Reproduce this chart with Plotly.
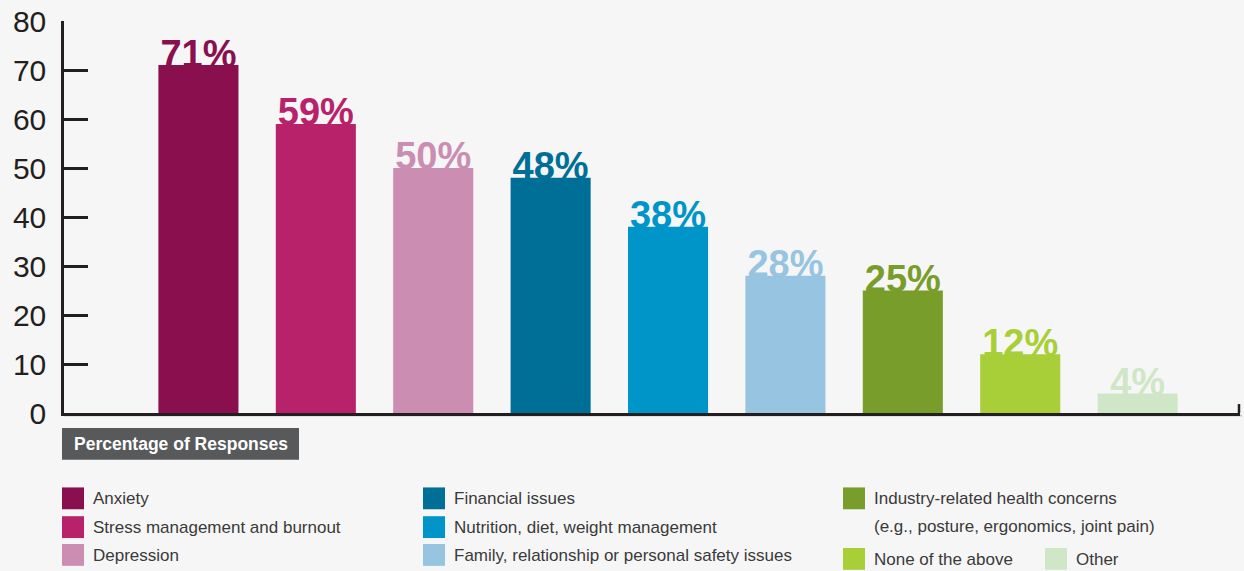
import plotly.graph_objects as go

# Survey results: share of respondents naming each concern
categories = [
    "Anxiety",
    "Stress management and burnout",
    "Depression",
    "Financial issues",
    "Nutrition, diet, weight management",
    "Family, relationship or personal safety issues",
    "Industry-related health concerns<br>(e.g., posture, ergonomics, joint pain)",
    "None of the above",
    "Other",
]
values = [71, 59, 50, 48, 38, 28, 25, 12, 4]
colors = [
    "#8a0f4e", "#b8226b", "#cb8db1",
    "#006f98", "#0095c9", "#96c4e1",
    "#789d2a", "#a8ce38", "#d0e7c7",
]
y_ticks = [0, 10, 20, 30, 40, 50, 60, 70, 80]
axis_title = "Percentage of Responses"

# Figure geometry (pixels)
W, H = 1244, 571
L, R, T, B = 64, 1240, 18, 413
BG = "#f6f6f6"
INK = "#231f20"
LABEL_FONT = "Liberation Sans, Arial, sans-serif"

y_max = 80
px_per_unit = (B - T) / y_max
# value labels sit partly behind the bar tops
label_drop = 11 / px_per_unit


def px(x):
    return (x - L) / (R - L)


def py(y):
    return (B - y) / (B - T)


fig = go.Figure()

# Value labels on the base subplot (drawn underneath the bars)
fig.add_trace(go.Scatter(
    x=categories,
    y=values,
    xaxis="x",
    yaxis="y",
    mode="text",
    text=[f"{v}%" for v in values],
    textposition="top center",
    textfont=dict(family=LABEL_FONT, size=38, color=colors, weight="bold"),
    cliponaxis=False,
    hoverinfo="skip",
    showlegend=False,
))

# Bars on the overlaying subplot
fig.add_trace(go.Bar(
    x=categories,
    y=values,
    xaxis="x",
    yaxis="y2",
    marker=dict(color=colors, line=dict(width=0)),
    width=0.682,
    showlegend=False,
    hoverinfo="skip",
))

shapes = []
annotations = []

# Right-hand end tick of the baseline and its soft shadow
shapes.append(dict(type="line", xref="paper", yref="paper",
                   x0=px(L), x1=px(R + 2), y0=py(415.5), y1=py(415.5),
                   line=dict(color="#c9c9c9", width=2), layer="below"))
shapes.append(dict(type="line", xref="paper", yref="paper",
                   x0=px(R - 1), x1=px(R - 1), y0=py(404), y1=py(B),
                   line=dict(color=INK, width=2.5)))

# Axis caption box
shapes.append(dict(type="rect", xref="paper", yref="paper",
                   x0=px(62), x1=px(299), y0=py(428), y1=py(460),
                   fillcolor="#58595b", line=dict(width=0)))
annotations.append(dict(xref="paper", yref="paper", x=px(72), y=py(444),
                        xanchor="left", yanchor="middle", showarrow=False,
                        text=f"<b>{axis_title}</b>",
                        font=dict(family=LABEL_FONT, size=17.5, color="white")))

# Custom three-column key
legend_slots = [
    (62, 488), (62, 517), (62, 545),
    (423, 488), (423, 517), (423, 545),
    (843, 488), (843, 549), (1045, 549),
]
sw = 22
line_step = 27.5
for (sx, sy), name, col in zip(legend_slots, categories, colors):
    shapes.append(dict(type="rect", xref="paper", yref="paper",
                       x0=px(sx), x1=px(sx + sw), y0=py(sy), y1=py(sy + sw),
                       fillcolor=col, line=dict(width=0)))
    for k, part in enumerate(name.split("<br>")):
        cy = sy + sw / 2 + 0.5 + k * line_step
        annotations.append(dict(xref="paper", yref="paper",
                                x=px(sx + 29), y=py(cy),
                                xanchor="left", yanchor="middle", align="left",
                                showarrow=False, text=part,
                                font=dict(family=LABEL_FONT, size=17, color="#3a3a3a")))

fig.update_layout(
    width=W, height=H,
    margin=dict(l=L, r=W - R, t=T, b=H - B, pad=0),
    paper_bgcolor=BG,
    plot_bgcolor=BG,
    xaxis=dict(
        type="category",
        range=[-1.145, 8.872],
        showline=True, linecolor=INK, linewidth=2.5,
        showticklabels=False, ticks="", showgrid=False, zeroline=False,
        fixedrange=True,
    ),
    yaxis=dict(
        range=[label_drop, y_max + label_drop],
        visible=False, fixedrange=True,
    ),
    yaxis2=dict(
        overlaying="y", side="left",
        range=[0, y_max],
        tickvals=y_ticks,
        ticks="inside", ticklen=24, tickwidth=2.5, tickcolor=INK,
        showline=True, linecolor=INK, linewidth=2.5,
        showgrid=False, zeroline=False,
        tickfont=dict(family=LABEL_FONT, size=30, color=INK),
        ticklabelstandoff=9,
        fixedrange=True,
    ),
    shapes=shapes,
    annotations=annotations,
    showlegend=False,
)

fig.write_html("out.html")
